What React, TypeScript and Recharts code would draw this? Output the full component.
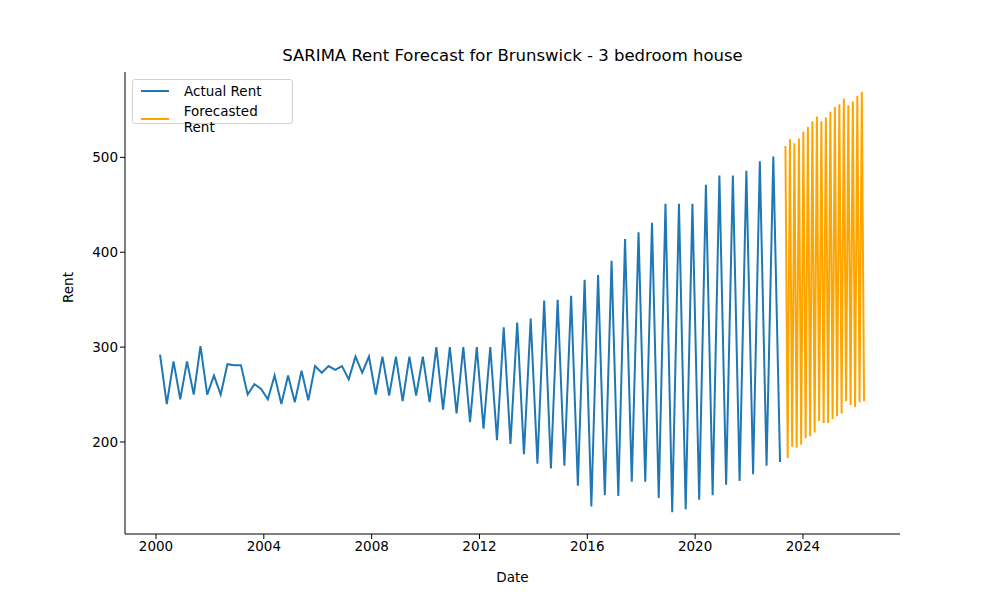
import React from "react";
import { LineChart, Line, XAxis, YAxis } from "recharts";

// quarterly actual rent, starting early 2000
const actualStart = 2000.15;
const actualRent = [
  292, 240, 285, 245, 285, 250, 301, 250, 270, 250, 282, 281, 281, 250, 261, 256,
  245, 270, 240, 270, 242, 275, 244, 280, 273, 280, 276, 280, 266, 290, 273, 290,
  250, 290, 249, 290, 243, 290, 249, 290, 242, 300, 234, 300, 230, 300, 221, 300,
  214, 300, 202, 321, 198, 326, 187, 330, 177, 349, 172, 350, 175, 354, 154, 371,
  132, 376, 144, 391, 143, 414, 158, 421, 158, 431, 141, 451, 126, 451, 129, 451,
  139, 471, 144, 481, 155, 481, 159, 486, 166, 496, 175, 501, 179,
];

// monthly forecast, starting spring 2023
const forecastStart = 2023.35;
const forecastRent = [
  512, 183, 519, 195, 515, 194, 520, 197, 527, 204, 532, 206, 538, 210, 543, 222,
  538, 220, 542, 220, 548, 224, 553, 227, 556, 230, 562, 243, 555, 239, 559, 237,
  565, 242, 569, 243,
];

const xTicks = [2000, 2004, 2008, 2012, 2016, 2020, 2024];
const yTicks = [200, 300, 400, 500];

const data = [
  ...actualRent.map((v, i) => ({ date: actualStart + i * 0.25, actual: v, forecast: null })),
  ...forecastRent.map((v, i) => ({ date: forecastStart + i / 12, actual: null, forecast: v })),
];

const font = "'DejaVu Sans', sans-serif";
const tickStyle = { fontSize: 13.5, fill: "#000", fontFamily: font };

export default function App() {
  return (
    <div style={{ position: "absolute", left: 0, top: 0, width: 1000, height: 600, background: "#fff", fontFamily: font }}>
      <div style={{ position: "absolute", left: 125, width: 775, top: 46, textAlign: "center", fontSize: 16.5 }}>
        SARIMA Rent Forecast for Brunswick - 3 bedroom house
      </div>
      <LineChart width={1000} height={600} data={data} margin={{ top: 72, right: 100, left: 0, bottom: 30 }}>
        <XAxis
          dataKey="date"
          type="number"
          domain={[1998.85, 2027.6]}
          ticks={xTicks}
          allowDataOverflow
          tick={tickStyle}
          tickSize={5}
          stroke="#000"
          height={36}
          label={{ value: "Date", position: "insideBottom", offset: -12, style: { ...tickStyle, fontSize: 13.5 } }}
        />
        <XAxis xAxisId="top" orientation="top" dataKey="date" type="number" domain={[1998.85, 2027.6]} tick={false} tickLine={false} stroke="#000" height={0} />
        <YAxis
          type="number"
          domain={[103, 590]}
          ticks={yTicks}
          allowDataOverflow
          tick={tickStyle}
          tickSize={5}
          stroke="#000"
          width={125}
          label={{ value: "Rent", angle: -90, position: "insideLeft", offset: 68, style: tickStyle }}
        />
        <YAxis yAxisId="right" orientation="right" domain={[103, 590]} tick={false} tickLine={false} stroke="#000" width={0} />
        <Line dataKey="actual" stroke="#1f77b4" strokeWidth={2} dot={false} isAnimationActive={false} connectNulls={false} />
        <Line dataKey="forecast" stroke="#ffa500" strokeWidth={2} dot={false} isAnimationActive={false} connectNulls={false} />
      </LineChart>
      <div
        style={{
          position: "absolute", left: 132, top: 79, width: 161, height: 45, border: "1px solid #d0d0d0",
          borderRadius: 3, background: "rgba(255,255,255,0.8)", fontSize: 13.5, boxSizing: "border-box",
        }}
      >
        {[["Actual Rent", "#1f77b4"], ["Forecasted Rent", "#ffa500"]].map(([name, c], i) => (
          <div key={name} style={{ position: "absolute", left: 8, top: 3 + i * 20, display: "flex", alignItems: "center" }}>
            <span style={{ width: 28, height: 2, background: c, display: "inline-block", marginRight: 15 }} />
            <span>{name}</span>
          </div>
        ))}
      </div>
    </div>
  );
}
